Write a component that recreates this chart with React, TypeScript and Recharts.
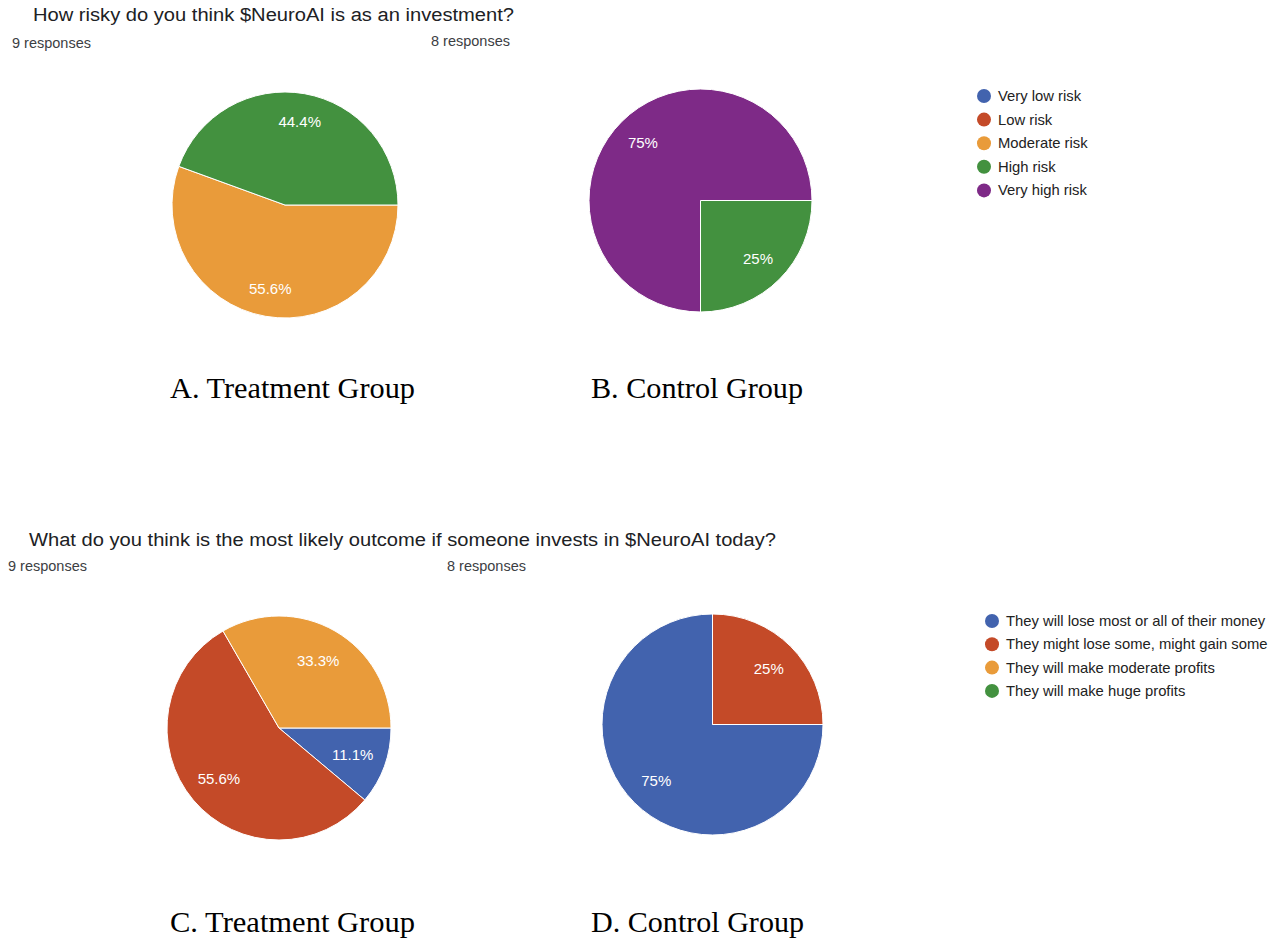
import { PieChart, Pie, Cell } from "recharts";

// Question 1: perceived risk
const RISK_LEVELS = ["Very low risk", "Low risk", "Moderate risk", "High risk", "Very high risk"];
const RISK_COLORS = ["#4263ae", "#c44a28", "#e99b3a", "#43913f", "#7e2a87"];
const RISK_TREATMENT = [0, 0, 5, 4, 0];
const RISK_CONTROL = [0, 0, 0, 2, 6];

// Question 2: expected outcome
const OUTCOMES = [
  "They will lose most or all of their money",
  "They might lose some, might gain some",
  "They will make moderate profits",
  "They will make huge profits",
];
const OUTCOME_COLORS = ["#4263ae", "#c44a28", "#e99b3a", "#43913f"];
const OUTCOME_TREATMENT = [1, 5, 3, 0];
const OUTCOME_CONTROL = [6, 2, 0, 0];

const SANS = "'Liberation Sans', Arial, Helvetica, sans-serif";
const SERIF = "'Liberation Serif', 'Times New Roman', serif";
const RADIAN = Math.PI / 180;

const fmtPct = (p: number) => `${parseFloat((p * 100).toFixed(1))}%`;

interface PieBoxProps {
  names: string[];
  colors: string[];
  counts: number[];
  cx: number;
  cy: number;
  r: number;
  labelAt?: number;
}

function PieBox({ names, colors, counts, cx, cy, r, labelAt = 0.73 }: PieBoxProps) {
  const data = names
    .map((name, i) => ({ name, value: counts[i], color: colors[i] }))
    .filter((d) => d.value > 0);
  const size = r * 2 + 4;

  const renderLabel = (props: any) => {
    const { cx: x0, cy: y0, midAngle, outerRadius, percent } = props;
    const rr = outerRadius * labelAt;
    const x = x0 + rr * Math.cos(-midAngle * RADIAN);
    const y = y0 + rr * Math.sin(-midAngle * RADIAN);
    return (
      <text
        x={x}
        y={y}
        fill="#fff"
        textAnchor="middle"
        dominantBaseline="central"
        fontSize={15}
        fontFamily={SANS}
      >
        {fmtPct(percent)}
      </text>
    );
  };

  return (
    <div
      style={{
        position: "absolute",
        left: cx - size / 2,
        top: cy - size / 2,
        width: size,
        height: size,
      }}
    >
      <PieChart width={size} height={size} margin={{ top: 0, right: 0, bottom: 0, left: 0 }}>
        <Pie
          data={data}
          dataKey="value"
          nameKey="name"
          cx="50%"
          cy="50%"
          outerRadius={r}
          startAngle={0}
          endAngle={-360}
          stroke="#fff"
          strokeWidth={1}
          label={renderLabel}
          labelLine={false}
          isAnimationActive={false}
        >
          {data.map((d, i) => (
            <Cell key={`cell-${i}`} fill={d.color} />
          ))}
        </Pie>
      </PieChart>
    </div>
  );
}

function Legend({
  names,
  colors,
  x,
  y,
  step,
}: {
  names: string[];
  colors: string[];
  x: number;
  y: number;
  step: number;
}) {
  return (
    <g>
      {names.map((n, i) => (
        <g key={n}>
          <circle cx={x} cy={y + i * step} r={7} fill={colors[i]} />
          <text
            x={x + 14}
            y={y + i * step}
            dominantBaseline="central"
            fontSize={14.8}
            fontFamily={SANS}
            fill="#222"
          >
            {n}
          </text>
        </g>
      ))}
    </g>
  );
}

export default function App() {
  return (
    <div
      style={{
        position: "absolute",
        left: 0,
        top: 0,
        width: 1275,
        height: 940,
        background: "#fff",
        overflow: "hidden",
      }}
    >
      <svg width={1275} height={940} style={{ position: "absolute", left: 0, top: 0 }}>
        {/* first question */}
        <text x={33} y={21} fontSize={18} fontFamily={SANS} fill="#202124" textLength={481} lengthAdjust="spacingAndGlyphs">
          How risky do you think $NeuroAI is as an investment?
        </text>
        <text x={12} y={48} fontSize={14.5} fontFamily={SANS} fill="#3c4043">9 responses</text>
        <text x={431} y={46} fontSize={14.5} fontFamily={SANS} fill="#3c4043">8 responses</text>
        <Legend names={RISK_LEVELS} colors={RISK_COLORS} x={984} y={96} step={23.6} />
        <text x={170} y={398} fontSize={30} fontFamily={SERIF} fill="#000" textLength={245} lengthAdjust="spacingAndGlyphs">
          A. Treatment Group
        </text>
        <text x={591} y={398} fontSize={30} fontFamily={SERIF} fill="#000" textLength={212} lengthAdjust="spacingAndGlyphs">
          B. Control Group
        </text>

        {/* second question */}
        <text x={29} y={546} fontSize={18} fontFamily={SANS} fill="#202124" textLength={747} lengthAdjust="spacingAndGlyphs">
          What do you think is the most likely outcome if someone invests in $NeuroAI today?
        </text>
        <text x={8} y={571} fontSize={14.5} fontFamily={SANS} fill="#3c4043">9 responses</text>
        <text x={447} y={571} fontSize={14.5} fontFamily={SANS} fill="#3c4043">8 responses</text>
        <Legend names={OUTCOMES} colors={OUTCOME_COLORS} x={992} y={621} step={23.3} />
        <text x={170} y={932} fontSize={30} fontFamily={SERIF} fill="#000" textLength={245} lengthAdjust="spacingAndGlyphs">
          C. Treatment Group
        </text>
        <text x={591} y={932} fontSize={30} fontFamily={SERIF} fill="#000" textLength={213} lengthAdjust="spacingAndGlyphs">
          D. Control Group
        </text>
      </svg>

      <PieBox names={RISK_LEVELS} colors={RISK_COLORS} counts={RISK_TREATMENT} cx={284.5} cy={205} r={113} labelAt={0.75} />
      <PieBox names={RISK_LEVELS} colors={RISK_COLORS} counts={RISK_CONTROL} cx={700.5} cy={200} r={111.5} labelAt={0.73} />
      <PieBox names={OUTCOMES} colors={OUTCOME_COLORS} counts={OUTCOME_TREATMENT} cx={279} cy={727.5} r={112} labelAt={0.7} />
      <PieBox names={OUTCOMES} colors={OUTCOME_COLORS} counts={OUTCOME_CONTROL} cx={712} cy={724} r={110.5} labelAt={0.72} />
    </div>
  );
}
